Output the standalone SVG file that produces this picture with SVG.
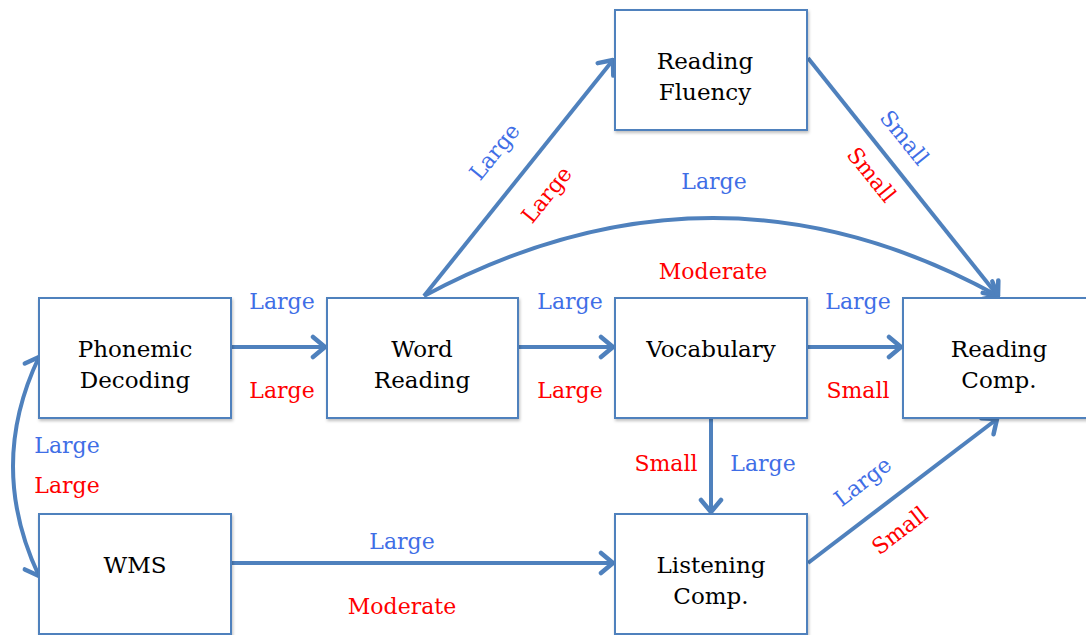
<svg xmlns="http://www.w3.org/2000/svg" width="1086" height="635" viewBox="0 0 1086 635">
<style>
.box{fill:#fff;stroke:#4F81BD;stroke-width:2;filter:url(#sh)}
.nt{font-family:"DejaVu Serif","Liberation Serif",serif;font-size:23px;fill:#000;text-anchor:middle}
.lb{font-family:"DejaVu Serif","Liberation Serif",serif;font-size:22px;text-anchor:middle}
.b{fill:#3F6EE6}
.r{fill:#FF0000}
.ar{fill:none;stroke:#4F81BD;stroke-width:4;marker-end:url(#ah)}
</style>
<defs>
<filter id="sh" x="-10%" y="-10%" width="120%" height="130%">
<feDropShadow dx="1" dy="2" stdDeviation="1.5" flood-color="#000" flood-opacity="0.25"/>
</filter>
<marker id="ah" viewBox="-16 -13 18 26" markerWidth="18" markerHeight="26" refX="0" refY="0" orient="auto-start-reverse" markerUnits="userSpaceOnUse">
<path d="M -12 -10 L 0 0 L -12 10" fill="none" stroke="#4F81BD" stroke-width="4.5" stroke-linecap="round" stroke-linejoin="round"/>
</marker>
</defs>
<rect width="1086" height="635" fill="#fff"/>
<g id="connectors">
<path class="ar" d="M 231 347 L 325 347"/>
<path class="ar" d="M 518 347 L 613 347"/>
<path class="ar" d="M 807 347 L 901 347"/>
<path class="ar" d="M 231 563 L 613 563"/>
<path class="ar" d="M 711 418 L 711 512"/>
<path class="ar" d="M 808 563 L 997 419"/>
<path class="ar" d="M 424 296 L 613 60"/>
<path class="ar" d="M 808 58 L 998 296"/>
<path class="ar" d="M 424 296 Q 715 140 998 296"/>
<path class="ar" d="M 39 357 Q -13 466 39 576" marker-start="url(#ah)"/>
</g>
<g id="labels">
<text class="lb b" x="282" y="309">Large</text>
<text class="lb r" x="282" y="398">Large</text>
<text class="lb b" x="570" y="309">Large</text>
<text class="lb r" x="570" y="398">Large</text>
<text class="lb b" x="858" y="309">Large</text>
<text class="lb r" x="858" y="398">Small</text>
<text class="lb b" x="67" y="453">Large</text>
<text class="lb r" x="67" y="493">Large</text>
<text class="lb r" x="666" y="471">Small</text>
<text class="lb b" x="763" y="471">Large</text>
<text class="lb b" x="402" y="549">Large</text>
<text class="lb r" x="402" y="614">Moderate</text>
<text class="lb b" x="714" y="189">Large</text>
<text class="lb r" x="713" y="279">Moderate</text>
<text class="lb b" transform="translate(495 152) rotate(-51)" x="0" y="7">Large</text>
<text class="lb r" transform="translate(547 195) rotate(-51)" x="0" y="7">Large</text>
<text class="lb b" transform="translate(904 138) rotate(51)" x="0" y="7">Small</text>
<text class="lb r" transform="translate(871 175) rotate(51)" x="0" y="7">Small</text>
<text class="lb b" transform="translate(863 482) rotate(-37.6)" x="0" y="7">Large</text>
<text class="lb r" transform="translate(900 531) rotate(-37.6)" x="0" y="7">Small</text>
</g>
<g id="phonemic-decoding">
<rect class="box" x="39" y="298" width="192" height="120"/>
<text class="nt" x="135" y="357">Phonemic</text>
<text class="nt" x="135" y="388">Decoding</text>
</g>
<g id="word-reading">
<rect class="box" x="327" y="298" width="191" height="120"/>
<text class="nt" x="422" y="357">Word</text>
<text class="nt" x="422" y="388">Reading</text>
</g>
<g id="vocabulary">
<rect class="box" x="615" y="298" width="192" height="120"/>
<text class="nt" x="711" y="357">Vocabulary</text>
</g>
<g id="reading-comp">
<rect class="box" x="903" y="298" width="192" height="120"/>
<text class="nt" x="999" y="357">Reading</text>
<text class="nt" x="999" y="388">Comp.</text>
</g>
<g id="reading-fluency">
<rect class="box" x="615" y="10" width="192" height="120"/>
<text class="nt" x="705" y="69">Reading</text>
<text class="nt" x="705" y="100">Fluency</text>
</g>
<g id="wms">
<rect class="box" x="39" y="514" width="192" height="120"/>
<text class="nt" x="135" y="573">WMS</text>
</g>
<g id="listening-comp">
<rect class="box" x="615" y="514" width="192" height="120"/>
<text class="nt" x="711" y="573">Listening</text>
<text class="nt" x="711" y="604">Comp.</text>
</g>
</svg>
